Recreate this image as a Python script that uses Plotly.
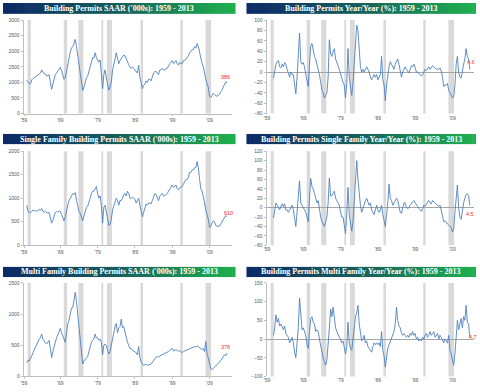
import plotly.graph_objects as go

W, H = 480, 392

# ---------------- data ----------------
TITLES = [
    "Building Permits SAAR ('000s): 1959 - 2013",
    "Building Permits Year/Year (%): 1959 - 2013",
    "Single Family Building Permits SAAR ('000s): 1959 - 2013",
    "Building Permits Single Family Year/Year (%): 1959 - 2013",
    "Multi Family Building Permits SAAR ('000s): 1959 - 2013",
    "Building Permits Multi Family Year/Year (%): 1959 - 2013",
]
TICK_POS = [1959.3, 1969.0, 1979.0, 1989.0, 1999.0, 2009.0]
TICK_TEXT = ["'59", "'69", "'79", "'89", "'99", "'09"]

RECESSIONS = [(1960.25, 1961.08), (1969.92, 1970.83), (1973.83, 1975.17),
              (1980.0, 1980.5), (1981.5, 1982.83), (1990.5, 1991.17),
              (2001.17, 2001.83), (2007.92, 2009.42)]

LEVEL_START = 1960.0   # three readings per year (Jan, May, Sep)
YOY_START = 1961.0

total_level = [
    1070, 990, 960,  950, 1080, 1120,  1150, 1180, 1200,  1250, 1280, 1300,
    1400, 1330, 1280,  1270, 1200, 1220,  1250, 1000, 780,  950, 1150, 1250,
    1300, 1350, 1420,  1480, 1380, 1250,  1100, 1150, 1350,  1550, 1850, 1980,
    2100, 2150, 2250,  2380, 2150, 1850,  1550, 1350, 1000,  740, 850, 1050,
    1150, 1200, 1350,  1550, 1700, 1800,  1780, 1950, 1800,  1700, 1650, 1720,
    1300, 800, 1250,  1400, 1150, 950,  750, 850, 1000,  1400, 1650, 1750,
    1950, 1800, 1600,  1700, 1750, 1800,  1880, 1850, 1750,  1700, 1600, 1480,
    1450, 1500, 1450,  1400, 1350, 1300,  1550, 1150, 1000,  800, 900, 950,
    1050, 1000, 1100,  1100, 1050, 1200,  1300, 1350, 1350,  1300, 1250, 1400,
    1400, 1450, 1400,  1400, 1450, 1450,  1550, 1600, 1650,  1700, 1600, 1650,
    1700, 1600, 1550,  1650, 1600, 1600,  1700, 1700, 1750,  1800, 1850, 1950,
    2000, 2050, 2050,  2150, 2100, 2250,  2150, 1950, 1700,  1600, 1500, 1250,
    1100, 950, 850,  550, 510, 580,  650, 620, 570,  560, 580, 620,
    700, 750, 850,  920, 1020, 986,
]
total_yoy = [
    -12, 5, 15,  20, 22, 10,  8, 15, 10,  18, 15, 5,  -5, -10, 0,  -5, -5, -30,
    -42, -10, 25,  75, 20, 15,  18, 10, -5,  -20, -28, 15,  50, 55, 40,  30, 25, 15,
    10, -5, -20,  -35, -40, -50,  -45, -40, -10,  62, 35, 30,  40, 45, 25,  20, 12, 5,
    -5, -15, -20,  -25, -50, -20,  45, -10, -30,  -45, -20, 20,  60, 90, 80,  40, 10, 0,
    5, 0, 5,  10, 5, 0,  -10, -15, -10,  -5, -10, -5,  -15, -10, -5,  30, -15, -25,
    -55, -25, -5,  10, 20, 15,  10, 5, 15,  20, 25, 15,  0, -10, 0,  5, 10, 5,
    0, -2, 5,  12, 10, 15,  8, 0, 0,  -3, -5, -8,  -5, 2, 5,  3, 8, 10,
    5, 8, 12,  10, 8, 5,  6, 5, 8,  2, -10, -28,  -25, -25, -22,  -35, -40, -45,
    -50, -48, -25,  15, 30, 0,  -10, -12, 5,  15, 25, 45,  30, 25, 4.6,
]
single_level = [
    850, 720, 700,  690, 720, 750,  730, 740, 720,  740, 760, 740,
    780, 720, 700,  720, 690, 680,  700, 600, 470,  530, 650, 700,
    720, 700, 730,  720, 650, 600,  520, 600, 750,  850, 950, 1000,
    1050, 1100, 1080,  1120, 950, 800,  720, 680, 580,  520, 620, 720,
    800, 830, 900,  1000, 1100, 1150,  1150, 1200, 1250,  1100, 1000, 1050,
    850, 470, 800,  850, 700, 550,  420, 450, 550,  750, 850, 950,
    1000, 950, 850,  950, 950, 1000,  1080, 1100, 1050,  1150, 1100, 1000,
    1000, 1020, 1000,  980, 900, 950,  1000, 850, 750,  600, 700, 800,
    880, 850, 900,  900, 880, 950,  1050, 1100, 1080,  1000, 950, 1050,
    1080, 1100, 1050,  1050, 1080, 1100,  1150, 1200, 1250,  1280, 1230, 1250,
    1280, 1200, 1180,  1220, 1240, 1250,  1300, 1350, 1400,  1400, 1450, 1550,
    1550, 1600, 1600,  1650, 1650, 1780,  1650, 1400, 1200,  1150, 1050, 900,
    750, 650, 550,  380, 400, 480,  520, 500, 420,  400, 400, 410,
    450, 490, 540,  590, 630, 610,
]
single_yoy = [
    -22, -5, 10,  5, 0, -5,  3, 8, 2,  8, -5, -5,  -10, -5, 0,  5, -5, -28,
    -40, -10, 20,  57, 10, 5,  0, -5, -10,  -20, -30, 20,  62, 45, 40,  30, 20, 10,
    15, -10, -20,  -30, -35, -40,  -30, -20, 10,  63, 25, 25,  30, 35, 20,  15, 10, 5,
    -10, -20, -20,  -35, -55, -10,  43, -15, -35,  -50, -30, 20,  70, 100, 60,  25, 5, -10,
    0, 5, 15,  20, 10, 5,  10, -5, -10,  -15, -5, 5,  -5, -10, -5,  5, -15, -25,
    -40, -15, 10,  50, 20, 15,  5, 10, 15,  20, 15, 5,  -10, -12, 0,  10, 10, 0,
    -2, 0, 5,  10, 12, 15,  10, 5, 0,  -2, -5, -8,  -2, 5, 3,  8, 12, 15,
    10, 8, 15,  12, 10, 8,  5, 3, 5,  -5, -20, -30,  -28, -30, -35,  -38, -40, -42,
    -52, -45, -10,  30, 48, 0,  -20, -25, 0,  10, 20, 28,  30, 25, 4.5,
]
multi_level = [
    220, 260, 250,  280, 330, 380,  430, 480, 520,  550, 600, 620,
    680, 600, 560,  540, 520, 560,  580, 450, 300,  400, 500, 550,
    620, 680, 720,  770, 700, 650,  600, 550, 700,  850, 900, 1000,
    1100, 1100, 1200,  1350, 1200, 1000,  850, 650, 450,  200, 250, 280,
    300, 320, 400,  500, 550, 580,  600, 680, 620,  620, 580, 600,
    550, 350, 500,  520, 500, 420,  360, 400, 500,  650, 750, 800,
    850, 700, 780,  800, 920, 780,  800, 700, 600,  550, 500, 450,
    450, 420, 400,  400, 380, 350,  480, 300, 230,  200, 180, 190,
    200, 180, 180,  190, 200, 230,  260, 290, 310,  320, 310, 330,
    340, 350, 350,  360, 370, 380,  400, 420, 430,  450, 410, 420,
    430, 420, 400,  420, 400, 380,  400, 410, 410,  420, 430, 450,
    450, 460, 470,  480, 470, 490,  480, 460, 450,  430, 450, 400,
    560, 350, 300,  200, 120, 110,  130, 150, 160,  180, 200, 230,
    260, 280, 320,  350, 330, 376,
]
multi_yoy = [
    10, 30, 65,  45, 55, 35,  40, 30, 25,  35, 15, 10,  5, -10, -5,  5, -10, -35,
    -50, -10, 30,  110, 50, 25,  30, 20, 10,  -15, -25, 20,  55, 60, 45,  40, 20, 25,
    20, 0, -20,  -40, -50, -60,  -70, -55, -20,  30, 80, 60,  85, 50, 30,  20, 10, 5,
    0, -10, -5,  -20, -40, -20,  45, -10, -25,  -30, 0, 30,  60, 70, 90,  40, 20, -5,
    0, 10, -10,  -5, -20, -25,  -30, -35, -20,  -10, -15, -10,  -15, -10, -20,  20, -30, -45,
    -75, -45, -25,  -15, -5, 5,  10, 20, 40,  85, 50, 35,  30, 15, 10,  15, 10, 5,
    10, 5, 15,  10, 20, 10,  15, 0, 5,  -5, 0, -5,  5, 0, 10,  15, 5, 10,
    20, 10, 15,  20, 5, 10,  15, 0, 10,  5, -5, -10,  0, -5, -10,  10, -30, -40,
    -55, -70, -40,  20, 50, 25,  40, 55, 30,  60, 50, 90,  45, 40, 4.7,
]

SERIES = [total_level, total_yoy, single_level, single_yoy, multi_level, multi_yoy]
Y_RANGES = [(0, 3000), (-80, 100), (0, 2000), (-80, 120), (0, 1500), (-100, 150)]
Y_STEPS = [500, 20, 500, 20, 500, 50]
END_LABELS = ["986", "4.6", "610", "4.5", "376", "4.7"]

# ---------------- layout geometry (pixels) ----------------
X_DOM = [(20.7, 230.0), (265.2, 474.4)]
Y_DOM = [(17.3, 112.3), (150.5, 246.0), (284.3, 379.3)]
BANNER_X = [(0.0, 234.0), (245.0, 476.0)]
BANNER_Y = [(0.0, 11.0), (133.0, 143.3), (268.0, 278.3)]
LABEL_SHIFT = [(-1, 6, "center"), (1, 8, "center"), (2, 3.5, "center"),
               (0, -8.5, "center"), (-1, 6.5, "center"), (3, 0, "center")]
X_RANGE = [1959.15, 2014.9]

LINE = "#4f81bd"
AXIS = "#bfbfbf"
TICKFONT = dict(family="Liberation Sans", size=5, color="#595959")
GRAD = [(0.0, (12, 42, 102)), (0.5, (23, 96, 90)), (1.0, (31, 176, 78))]


def grad_color(t):
    for (t0, c0), (t1, c1) in zip(GRAD[:-1], GRAD[1:]):
        if t <= t1:
            f = (t - t0) / (t1 - t0)
            return "rgb(%d,%d,%d)" % tuple(round(a + (b - a) * f) for a, b in zip(c0, c1))
    return "rgb(%d,%d,%d)" % GRAD[-1][1]


fig = go.Figure()
shapes = []
annotations = []
layout = {}

for i in range(6):
    row, col = divmod(i, 2)
    n = i + 1
    xa = "x" if n == 1 else "x%d" % n
    ya = "y" if n == 1 else "y%d" % n
    is_yoy = col == 1
    vals = SERIES[i]
    start = YOY_START if is_yoy else LEVEL_START
    dates = [start + k / 3 for k in range(len(vals))]

    fig.add_trace(go.Scatter(x=dates, y=vals, mode="lines", xaxis=xa, yaxis=ya,
                             line=dict(color=LINE, width=0.9), showlegend=False,
                             hoverinfo="skip"))

    xd = X_DOM[col]
    yd = Y_DOM[row]
    layout["xaxis" if n == 1 else "xaxis%d" % n] = dict(
        domain=[xd[0] / W, xd[1] / W], anchor=ya, range=X_RANGE,
        tickvals=TICK_POS, ticktext=TICK_TEXT, tickfont=TICKFONT,
        showgrid=False, zeroline=False,
        showline=not is_yoy, linecolor=AXIS, linewidth=0.8,
        ticks="" if is_yoy else "outside", ticklen=2, tickcolor=AXIS, tickwidth=0.8,
        fixedrange=True)
    yr = Y_RANGES[i]
    layout["yaxis" if n == 1 else "yaxis%d" % n] = dict(
        domain=[1 - yd[1] / H, 1 - yd[0] / H], anchor=xa, range=list(yr),
        dtick=Y_STEPS[i], tick0=0, tickfont=TICKFONT, showgrid=False,
        zeroline=is_yoy, zerolinecolor="#a6a6a6", zerolinewidth=0.8,
        showline=True, linecolor=AXIS, linewidth=0.8,
        ticks="outside", ticklen=2, tickcolor=AXIS, tickwidth=0.8, fixedrange=True)

    for (r0, r1) in RECESSIONS:
        shapes.append(dict(type="rect", xref=xa, yref="%s domain" % ya,
                           x0=r0, x1=r1, y0=0, y1=1, fillcolor="#d9d9d9",
                           line=dict(width=0), layer="below"))

    # gradient banner
    bx0, bx1 = BANNER_X[col]
    by0, by1 = BANNER_Y[row]
    steps = 60
    for s in range(steps):
        t = s / (steps - 1)
        sx0 = bx0 + (bx1 - bx0) * s / steps
        sx1 = bx0 + (bx1 - bx0) * (s + 1) / steps + 0.6
        shapes.append(dict(type="rect", xref="paper", yref="paper",
                           x0=sx0 / W, x1=min(sx1, bx1) / W,
                           y0=1 - by1 / H, y1=1 - by0 / H,
                           fillcolor=grad_color(t), line=dict(width=0), layer="above"))
    annotations.append(dict(xref="paper", yref="paper", x=(bx0 + bx1) / 2 / W,
                            y=1 - (by0 + by1) / 2 / H, text=TITLES[i], showarrow=False,
                            xanchor="center", yanchor="middle",
                            font=dict(family="Liberation Serif", size=8, color="white",
                                      weight="bold")))
    dx, dy, anc = LABEL_SHIFT[i]
    annotations.append(dict(xref=xa, yref=ya, x=dates[-1], y=vals[-1], text=END_LABELS[i],
                            showarrow=False, xanchor=anc, yanchor="middle",
                            xshift=dx, yshift=dy,
                            font=dict(family="Liberation Sans", size=5.5, color="#ff2a2a")))

fig.update_layout(width=W, height=H, margin=dict(l=0, r=0, t=0, b=0),
                  paper_bgcolor="white", plot_bgcolor="white",
                  shapes=shapes, annotations=annotations, **layout)

fig.write_html("out.html", config={"displayModeBar": False},
               post_script="document.body.style.margin='0';document.body.style.padding='0';")
